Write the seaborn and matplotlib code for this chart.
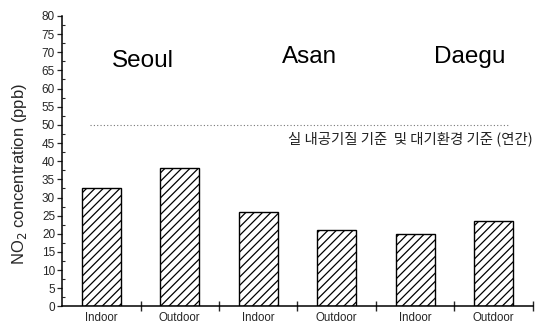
import matplotlib
matplotlib.use("Agg")
import matplotlib.pyplot as plt
from matplotlib.ticker import FixedLocator, MultipleLocator
import seaborn as sns
import pandas as pd

# NO2 concentrations (ppb) by site and setting
sites = ["Seoul", "Seoul", "Asan", "Asan", "Daegu", "Daegu"]
settings = ["Indoor", "Outdoor", "Indoor", "Outdoor", "Indoor", "Outdoor"]
no2_ppb = [32.5, 38.0, 26.0, 21.0, 20.0, 23.5]
standard_ppb = 50
standard_label = "실 내공기질 기준  및 대기환경 기준 (연간)"
site_names = ["Seoul", "Asan", "Daegu"]

df = pd.DataFrame({
    "slot": [f"{s}-{t}" for s, t in zip(sites, settings)],
    "setting": settings,
    "no2": no2_ppb,
})

sns.set_theme(style="ticks")
plt.rcParams["font.family"] = ["Arial", "Liberation Sans", "DejaVu Sans"]
plt.rcParams["hatch.linewidth"] = 0.9

fig = plt.figure(figsize=(5.37, 3.25), dpi=100)
ax = fig.add_axes([0.1155, 0.057, 0.877, 0.894])

sns.barplot(data=df, x="slot", y="no2", color="white", width=0.5,
            edgecolor="black", linewidth=1.0, hatch="////", ax=ax,
            saturation=1, errorbar=None)

# Annual standard line
ax.plot([-0.14, 5.2], [standard_ppb, standard_ppb], linestyle=(0, (1, 2)),
        color="#777777", linewidth=0.8)
ax.text(5.5, 48.2, standard_label, ha="right", va="top", fontsize=10.4,
        family=["Noto Sans CJK KR", "DejaVu Sans"], color="#222222")

# Site names above each pair of bars
site_x = [0.53, 2.65, 4.70]
site_y = [67.6, 68.7, 68.7]
for name, sx, sy in zip(site_names, site_x, site_y):
    ax.text(sx, sy, name, ha="center", va="center", fontsize=17.5, color="black")

ax.set_xlim(-0.5, 5.5)
ax.set_ylim(0, 80)
ax.set_xlabel("")
ax.set_ylabel("NO$_2$ concentration (ppb)", fontsize=12)
ax.yaxis.set_label_coords(-0.070, 0.455)

ax.set_xticks(range(6))
ax.set_xticklabels(settings, fontsize=8.3)
ax.tick_params(axis="x", which="major", length=0, pad=4)
ax.xaxis.set_minor_locator(FixedLocator([0.5, 1.5, 2.5, 3.5, 4.5, 5.5]))
ax.tick_params(axis="x", which="minor", direction="inout", length=7, width=1.0)

ax.yaxis.set_major_locator(MultipleLocator(5))
ax.yaxis.set_minor_locator(MultipleLocator(2.5))
ax.tick_params(axis="y", which="major", direction="out", length=3.5, width=0.9,
               labelsize=8.5, pad=1.5)
ax.tick_params(axis="y", which="minor", direction="in", length=2.5, width=0.8)

for side in ("top", "right"):
    ax.spines[side].set_visible(False)
for side in ("left", "bottom"):
    ax.spines[side].set_linewidth(1.1)
    ax.spines[side].set_color("black")

fig.savefig("out.png", dpi=100)
